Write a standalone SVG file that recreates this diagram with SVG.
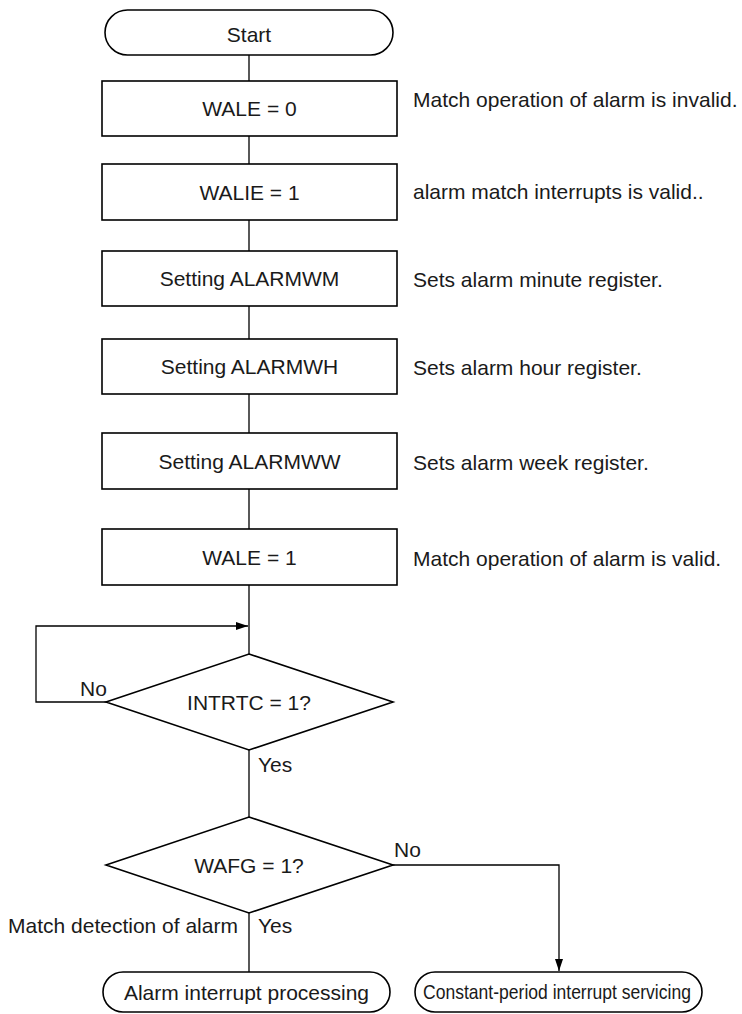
<svg xmlns="http://www.w3.org/2000/svg" width="742" height="1014" viewBox="0 0 742 1014">
<style>
.s{fill:#fff;stroke:#000;stroke-width:1.6}
.c{fill:none;stroke:#000;stroke-width:1.3}
text{font-family:"Liberation Sans",Arial,sans-serif;font-size:21px;fill:#1a1a1a}
.m{text-anchor:middle}
</style>
<defs>
<marker id="ah" markerWidth="12" markerHeight="8" refX="12" refY="4" orient="auto" markerUnits="userSpaceOnUse">
<path d="M0,0 L12,4 L0,8 Z" fill="#000"/>
</marker>
</defs>
<rect width="742" height="1014" fill="#fff"/>
<g id="connectors">
<path class="c" d="M249,55V81M249,136V164M249,220V251M249,306V339M249,394V433M249,489V529M249,585V654M249,750V817M249,913V972"/>
<path class="c" d="M106,702H36V626H248" marker-end="url(#ah)"/>
<path class="c" d="M393,865H559V971" marker-end="url(#ah)"/>
<text x="80" y="696">No</text>
<text x="258" y="772">Yes</text>
<text x="394" y="857">No</text>
<text x="258" y="933">Yes</text>
<text x="8" y="933">Match detection of alarm</text>
</g>
<g id="start"><rect class="s" x="105" y="10" width="288" height="45" rx="22.5"/><text class="m" x="249" y="42">Start</text></g>
<g id="wale0"><rect class="s" x="102" y="81" width="295" height="55"/><text class="m" x="249.5" y="116">WALE = 0</text><text x="413" y="107">Match operation of alarm is invalid.</text></g>
<g id="walie1"><rect class="s" x="102" y="164" width="295" height="56"/><text class="m" x="249.5" y="200">WALIE = 1</text><text x="413" y="199">alarm match interrupts is valid..</text></g>
<g id="alarmwm"><rect class="s" x="102" y="251" width="295" height="55"/><text class="m" x="249.5" y="286">Setting ALARMWM</text><text x="413" y="287">Sets alarm minute register.</text></g>
<g id="alarmwh"><rect class="s" x="102" y="339" width="295" height="55"/><text class="m" x="249.5" y="374">Setting ALARMWH</text><text x="413" y="375">Sets alarm hour register.</text></g>
<g id="alarmww"><rect class="s" x="102" y="433" width="295" height="56"/><text class="m" x="249.5" y="469">Setting ALARMWW</text><text x="413" y="470">Sets alarm week register.</text></g>
<g id="wale1"><rect class="s" x="102" y="529" width="295" height="56"/><text class="m" x="249.5" y="565">WALE = 1</text><text x="413" y="566">Match operation of alarm is valid.</text></g>
<g id="intrtc"><polygon class="s" points="249,654 393,702 249,750 106,702"/><text class="m" x="249" y="710">INTRTC = 1?</text></g>
<g id="wafg"><polygon class="s" points="249,817 393,865 249,913 106,865"/><text class="m" x="249" y="873">WAFG = 1?</text></g>
<g id="alarmint"><rect class="s" x="103" y="972" width="287" height="40" rx="20"/><text class="m" x="246.5" y="1000">Alarm interrupt processing</text></g>
<g id="constint"><rect class="s" x="415" y="972" width="287" height="40" rx="20"/><text class="m" transform="translate(557,999) scale(0.835,1)" x="0" y="0" font-size="20">Constant-period interrupt servicing</text></g>
</svg>
